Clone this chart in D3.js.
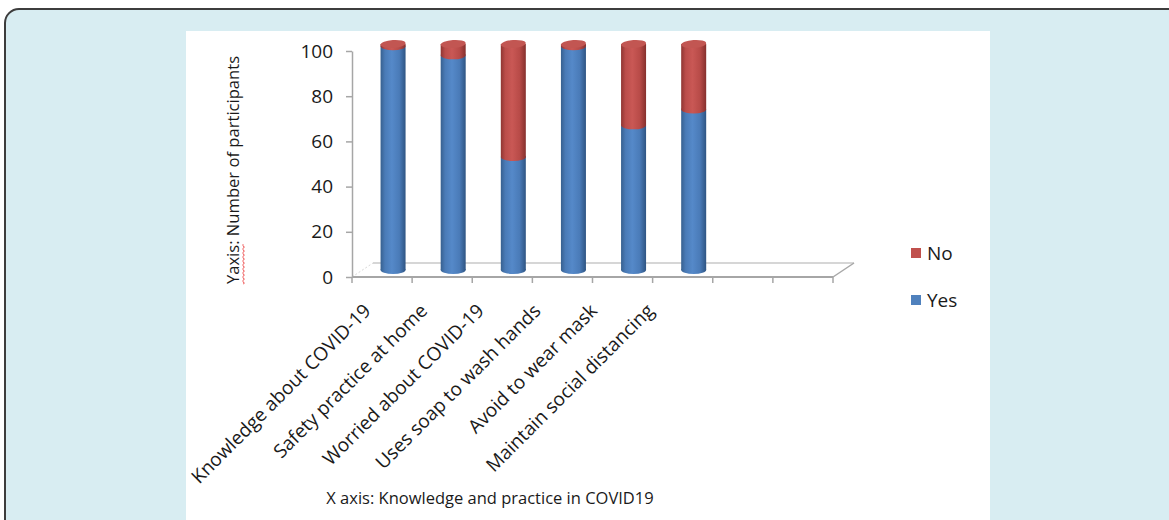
<!DOCTYPE html>
<html>
<head>
<meta charset="utf-8">
<script src="https://cdn.jsdelivr.net/npm/d3@7"></script>
<style>
  html, body { margin: 0; padding: 0; background: #ffffff; }
  svg { display: block; }
</style>
</head>
<body>
<svg id="chart" width="1169" height="520"></svg>
<script>
// Survey responses per item (number of participants)
const categories = [
  "Knowledge about COVID-19",
  "Safety practice at home",
  "Worried about COVID-19",
  "Uses soap to wash hands",
  "Avoid to wear mask",
  "Maintain social distancing"
];
const yesValues = [99, 95, 50, 99, 64, 71];
const noValues  = [1, 5, 50, 1, 36, 29];
const yTicks = [0, 20, 40, 60, 80, 100];
const seriesNames = ["Yes", "No"];
const slotCount = 8; // the category axis carries two empty slots at the end

const FONT = "'Open Sans', 'Liberation Sans', sans-serif";
const svg = d3.select("#chart");

// Page frame and chart panel
svg.append("rect").attr("x", 5).attr("y", 9).attr("width", 1185).attr("height", 540)
  .attr("rx", 14).attr("fill", "#d8edf2").attr("stroke", "#3d3d3d").attr("stroke-width", 2);
svg.append("rect").attr("x", 186).attr("y", 31).attr("width", 804).attr("height", 500)
  .attr("fill", "#ffffff");

// Scales
const x = d3.scaleBand().domain(d3.range(slotCount)).range([352, 833]).paddingInner(0).paddingOuter(0);
// category labels are laid out on a slightly tighter pitch than the floor ticks
const labelX = d3.scaleBand().domain(d3.range(slotCount)).range([343.7, 343.7 + 56.6 * slotCount]);
const y = d3.scaleLinear().domain([0, 100]).range([277, 51]);
const depthX = 21, depthY = -14;       // floor depth
const barDx = 11, barDy = -7;          // bars sit half-way into the depth
const barW = 25, ry = 4;

// Gradients for the cylinders
const defs = svg.append("defs");
function cylGrad(id, stops) {
  const g = defs.append("linearGradient").attr("id", id).attr("x1", "0%").attr("x2", "100%").attr("y1", "0%").attr("y2", "0%");
  stops.forEach(([o, c]) => g.append("stop").attr("offset", o).attr("stop-color", c));
}
cylGrad("gYes", [["0%", "#37608f"], ["18%", "#4a7bb7"], ["45%", "#5589c9"], ["75%", "#4a7bb8"], ["100%", "#2f5583"]]);
cylGrad("gNo",  [["0%", "#8f3532"], ["18%", "#bb4d4a"], ["45%", "#c95855"], ["75%", "#b84b48"], ["100%", "#86302d"]]);
const capColor = { Yes: "#5a8bc6", No: "#c25652" };

// Floor (3D base)
const floor = svg.append("g").attr("fill", "none");
floor.append("line").attr("x1", 352 + depthX).attr("x2", 833 + depthX)
  .attr("y1", y(0) + depthY).attr("y2", y(0) + depthY)
  .attr("stroke", "#c8c8c8").attr("stroke-width", 1.5);
floor.append("line").attr("x1", 833).attr("y1", y(0)).attr("x2", 833 + depthX).attr("y2", y(0) + depthY)
  .attr("stroke", "#a8a8a8").attr("stroke-width", 1.5);
floor.append("line").attr("x1", 352).attr("y1", y(0)).attr("x2", 352 + depthX).attr("y2", y(0) + depthY)
  .attr("stroke", "#d8d8d8").attr("stroke-width", 1).attr("stroke-dasharray", "2,2");

// Y axis
const yAxis = svg.append("g").attr("transform", "translate(352,0)")
  .call(d3.axisLeft(y).tickValues(yTicks).tickSize(6).tickPadding(13).tickSizeOuter(0));
yAxis.select(".domain").attr("stroke", "#a6a6a6").attr("stroke-width", 1.5);
yAxis.selectAll(".tick line").attr("stroke", "#a6a6a6").attr("stroke-width", 1.5);
yAxis.selectAll(".tick text").attr("font-family", FONT).attr("font-size", 19).attr("fill", "#1a1a1a");

// X axis with tick marks at slot boundaries
const xAxisG = svg.append("g");
xAxisG.append("line").attr("x1", 352).attr("x2", 833).attr("y1", y(0)).attr("y2", y(0))
  .attr("stroke", "#a6a6a6").attr("stroke-width", 2);
xAxisG.selectAll("line.tk").data(d3.range(slotCount + 1)).join("line").attr("class", "tk")
  .attr("x1", i => i < slotCount ? x(i) : x(slotCount - 1) + x.bandwidth())
  .attr("x2", i => i < slotCount ? x(i) : x(slotCount - 1) + x.bandwidth())
  .attr("y1", y(0)).attr("y2", y(0) + 6)
  .attr("stroke", "#a6a6a6").attr("stroke-width", 1.5);

// Stacked cylinders
const stackData = categories.map((c, i) => ({ cat: c, i, Yes: yesValues[i], No: noValues[i] }));
const stacked = d3.stack().keys(seriesNames)(stackData);
const bars = svg.append("g");
stacked.forEach(layer => {
  const key = layer.key;
  layer.forEach((seg, i) => {
    if (seg[1] - seg[0] <= 0) return;
    const cx = x(i) + x.bandwidth() / 2 + barDx;
    const yTop = y(seg[1]) + barDy, yBot = y(seg[0]) + barDy;
    const g = bars.append("g");
    g.append("rect").attr("x", cx - barW / 2).attr("y", yTop).attr("width", barW).attr("height", yBot - yTop)
      .attr("fill", `url(#g${key})`);
    g.append("ellipse").attr("cx", cx).attr("cy", yBot).attr("rx", barW / 2).attr("ry", ry)
      .attr("fill", `url(#g${key})`);
    const isTop = key === seriesNames[seriesNames.length - 1] || (key === "Yes" && stackData[i].No === 0);
    if (isTop) {
      g.append("ellipse").attr("cx", cx).attr("cy", yTop).attr("rx", barW / 2).attr("ry", ry)
        .attr("transform", `rotate(-4,${cx},${yTop})`)
        .attr("fill", capColor[key]);
    }
  });
});

// Category labels, rotated
svg.append("g").selectAll("text").data(categories).join("text")
  .attr("transform", (d, i) => `translate(${labelX(i) + labelX.bandwidth() / 2},${y(0) + 35}) rotate(-45)`)
  .attr("text-anchor", "end")
  .attr("font-family", FONT).attr("font-size", 19).attr("fill", "#1a1a1a")
  .text(d => d);

// Axis titles
svg.append("text").attr("x", 490).attr("y", 504).attr("text-anchor", "middle")
  .attr("font-family", FONT).attr("font-size", 16.5).attr("fill", "#1a1a1a")
  .text("X axis: Knowledge and practice in COVID19");

const yTitleG = svg.append("g").attr("transform", "translate(239,170) rotate(-90)");
const yTitle = yTitleG.append("text").attr("x", 0).attr("y", 0).attr("text-anchor", "middle")
  .attr("font-family", FONT).attr("font-size", 16.6).attr("fill", "#1a1a1a")
  .text("Yaxis: Number of participants");
// spell-check style wavy underline beneath "Yaxis"
(function () {
  const node = yTitle.node();
  const total = node.getComputedTextLength();
  const w = node.getSubStringLength(0, 5);
  const x0 = -total / 2, y0 = 4;
  let p = `M${x0},${y0}`;
  for (let s = 0; s < w; s += 2) p += ` L${x0 + s + 1},${y0 + (s % 4 === 0 ? 1.5 : -0)} L${x0 + s + 2},${y0}`;
  yTitleG.append("path").attr("d", p).attr("fill", "none").attr("stroke", "#f06a6a").attr("stroke-width", 1);
})();

// Legend
const legend = svg.append("g");
[["No", 248], ["Yes", 295]].forEach(([k, ly]) => {
  legend.append("rect").attr("x", 911).attr("y", ly).attr("width", 10).attr("height", 10)
    .attr("fill", k === "No" ? "#c0504d" : "#4f81bd");
  legend.append("text").attr("x", 927).attr("y", ly + 12).attr("font-family", FONT).attr("font-size", 19)
    .attr("fill", "#1a1a1a").text(k);
});
</script>
</body>
</html>
